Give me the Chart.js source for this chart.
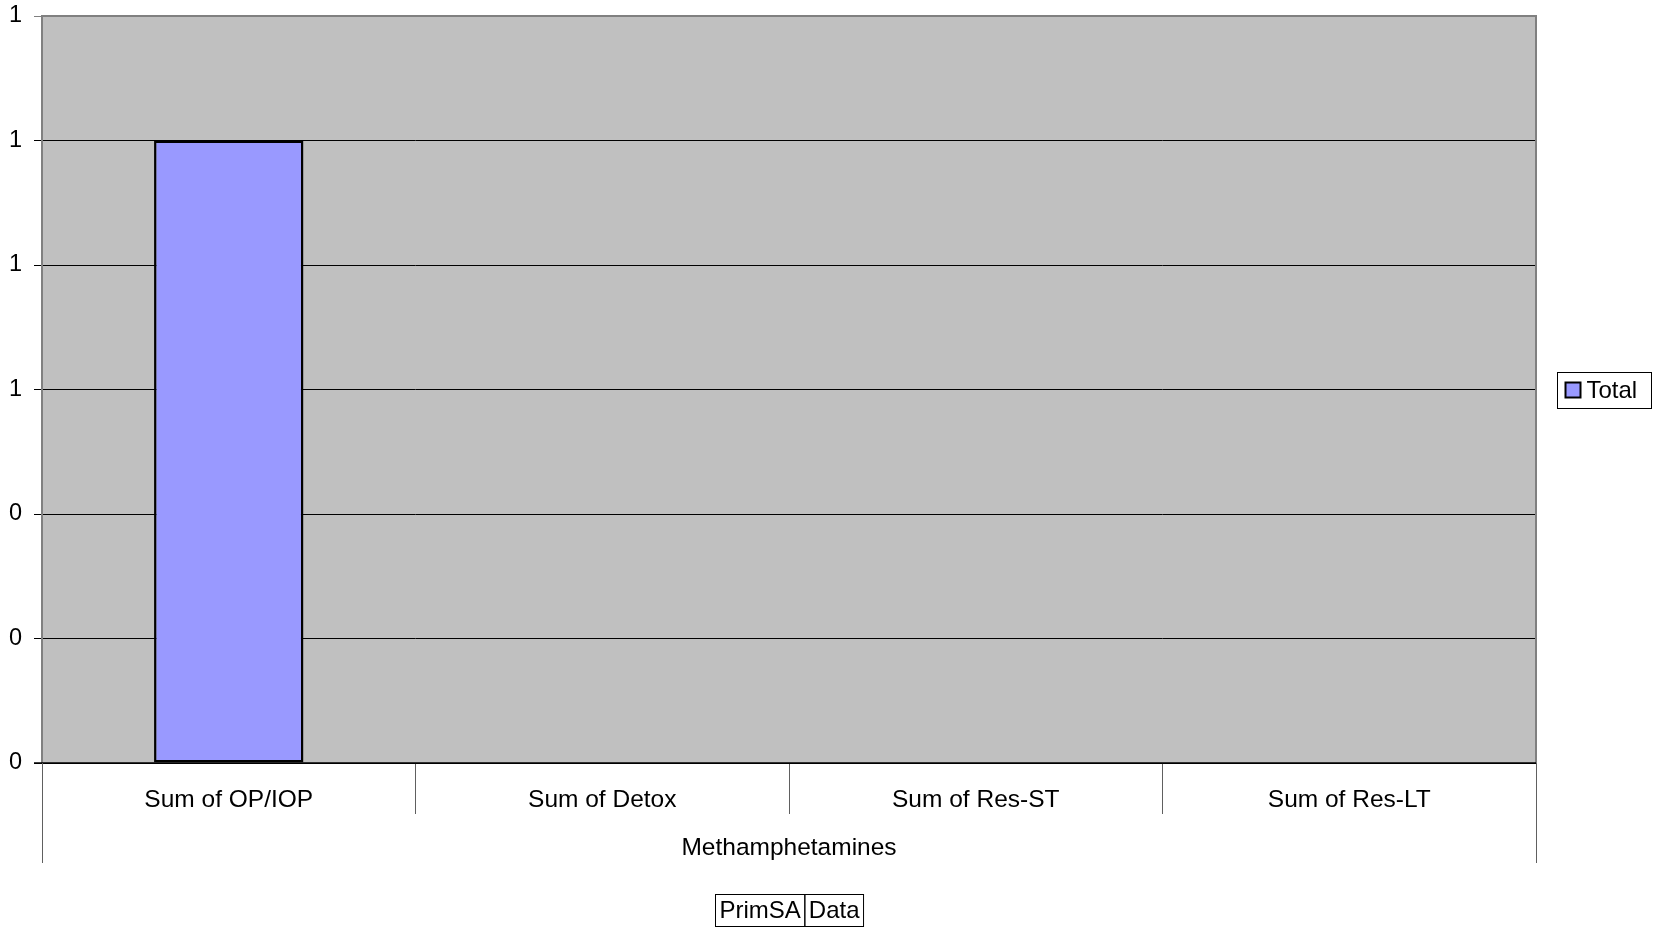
<!DOCTYPE html>
<html>
<head>
<meta charset="utf-8">
<title>Methamphetamines - Total</title>
<script src="https://cdn.jsdelivr.net/npm/chart.js@4"></script>
<style>
  body { margin: 0; background: #fff; }
  canvas { display: block; }
</style>
</head>
<body>
<canvas id="chart" width="1654" height="927"></canvas>
<script>
// datos del gráfico
const categories = ['Sum of OP/IOP', 'Sum of Detox', 'Sum of Res-ST', 'Sum of Res-LT'];
const totalValues = [1, 0, 0, 0];
const seriesName = 'Total';
const groupLabel = 'Methamphetamines';
const fieldButtons = ['PrimSA', 'Data'];
const yMin = 0;
const yMax = 1.2;
const yStep = 0.2;

const FONT = "'Liberation Sans', Arial, sans-serif";

// dibuja fondo, bordes, etiqueta de grupo, botones y leyenda
const excelLook = {
  id: 'excelLook',
  beforeDraw(chart) {
    const { ctx, chartArea: a } = chart;
    ctx.save();
    ctx.fillStyle = '#C0C0C0';
    ctx.fillRect(a.left, a.top, a.right - a.left, a.bottom - a.top);
    ctx.restore();
  },
  afterDraw(chart) {
    const { ctx, chartArea: a } = chart;
    ctx.save();

    // borde del área de trazado
    ctx.strokeStyle = '#808080';
    ctx.lineWidth = 2;
    ctx.beginPath();
    ctx.moveTo(a.left, a.bottom);
    ctx.lineTo(a.left, a.top);
    ctx.lineTo(a.right, a.top);
    ctx.lineTo(a.right, a.bottom);
    ctx.stroke();

    ctx.strokeStyle = '#000';
    ctx.lineWidth = 1.5;
    ctx.beginPath();
    ctx.moveTo(a.left - 8, a.bottom);
    ctx.lineTo(a.right, a.bottom);
    ctx.stroke();

    // separadores exteriores del grupo
    ctx.strokeStyle = '#606060';
    ctx.lineWidth = 1;
    [a.left, a.right].forEach(x => {
      ctx.beginPath();
      ctx.moveTo(Math.round(x) + 0.5, a.bottom);
      ctx.lineTo(Math.round(x) + 0.5, a.bottom + 100);
      ctx.stroke();
    });

    const cx = (a.left + a.right) / 2;
    ctx.fillStyle = '#000';
    ctx.font = '24.5px ' + FONT;
    ctx.textAlign = 'center';
    ctx.textBaseline = 'middle';
    ctx.fillText(groupLabel, cx, a.bottom + 85);

    // botones de campo
    ctx.font = '24px ' + FONT;
    const widths = fieldButtons.map(t => ctx.measureText(t).width + 8);
    const total = widths.reduce((s, w) => s + w, 0);
    let bx = Math.round(cx - total / 2) + 0.5;
    const by = 894.5, bh = 32;
    ctx.strokeStyle = '#000';
    ctx.lineWidth = 1;
    fieldButtons.forEach((t, i) => {
      ctx.strokeRect(bx, by, widths[i], bh);
      ctx.fillText(t, bx + widths[i] / 2, by + bh / 2 + 1);
      bx += widths[i];
    });

    // leyenda
    const ds = chart.data.datasets[0];
    const lx = 1557.5, ly = 372.5, lw = 94, lh = 36;
    ctx.fillStyle = '#fff';
    ctx.fillRect(lx, ly, lw, lh);
    ctx.strokeStyle = '#000';
    ctx.strokeRect(lx, ly, lw, lh);
    ctx.fillStyle = ds.backgroundColor;
    ctx.fillRect(lx + 8, ly + 10, 15, 15);
    ctx.lineWidth = 2;
    ctx.strokeRect(lx + 8, ly + 10, 15, 15);
    ctx.fillStyle = '#000';
    ctx.textAlign = 'left';
    ctx.fillText(ds.label, lx + 29, ly + lh / 2 + 1);

    ctx.restore();
  }
};

new Chart(document.getElementById('chart'), {
  type: 'bar',
  data: {
    labels: categories,
    datasets: [{
      label: seriesName,
      data: totalValues,
      backgroundColor: '#9999FF',
      borderColor: '#000',
      borderWidth: 2.5,
      borderSkipped: false,
      categoryPercentage: 1,
      barPercentage: 0.4
    }]
  },
  options: {
    responsive: false,
    animation: false,
    layout: { padding: { top: 16, right: 118, left: 0, bottom: 0 } },
    plugins: {
      legend: { display: false },
      tooltip: { enabled: false }
    },
    scales: {
      x: {
        offset: true,
        grid: {
          offset: true,
          drawOnChartArea: false,
          drawTicks: true,
          tickLength: 51,
          color: '#606060',
          lineWidth: 1
        },
        border: { display: false },
        ticks: {
          color: '#000',
          font: { family: FONT, size: 24.5 },
          padding: -28,
          maxRotation: 0,
          autoSkip: false
        },
        afterFit(scale) {
          scale.height = 164;
          scale.paddingLeft = 0;
          scale.paddingRight = 0;
        }
      },
      y: {
        min: yMin,
        max: yMax,
        grid: {
          color: ctx => ctx.tick && ctx.tick.value >= yMax ? '#808080' : '#000',
          lineWidth: 1,
          drawTicks: true,
          tickLength: 8
        },
        border: { display: false },
        ticks: {
          stepSize: yStep,
          color: '#000',
          font: { family: FONT, size: 23.5 },
          padding: 12,
          callback: v => Math.round(v).toString()
        },
        afterFit(scale) {
          scale.width = 42;
          scale.paddingTop = 0;
          scale.paddingBottom = 0;
        }
      }
    }
  },
  plugins: [excelLook]
});
</script>
</body>
</html>
